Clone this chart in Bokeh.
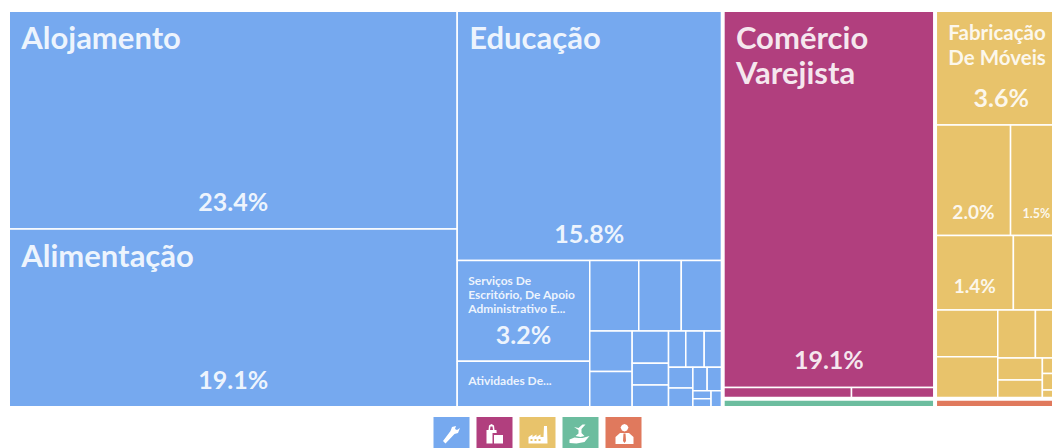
from bokeh.plotting import figure
from bokeh.models import Range1d, ColumnDataSource
from bokeh.core.properties import value
from bokeh.embed import file_html
from bokeh.resources import INLINE

# ---- data: shares (%) per sector, nested in the way the treemap splits them
BLUE, MAGENTA, YELLOW, GREEN, RED = "#76a9ef", "#b13f7e", "#e8c36b", "#6cbd9f", "#e0795d"
FONT = "Lato"

services_tree = ("h", [
    ("v", [("h", [("a1", 0.83), ("a2", 0.72), ("a3", 0.68)]),
           ("h", [("v", [("b1", 0.41), ("b2", 0.36)]),
                  ("v", [("c1", 0.28), ("c2", 0.19), ("c3", 0.19)]),
                  ("v", [("h", [("d1", 0.15), ("d2", 0.16), ("d3", 0.15)]),
                         ("h", [("v", [("e1", 0.12), ("e2", 0.11)]),
                                ("v", [("h", [("f1", 0.08), ("f2", 0.08)]),
                                       ("h", [("v", [("g1", 0.035), ("g2", 0.035)]), ("g3", 0.04)])])])])])]),
])
blue_tree = ("h", [
    ("v", [("Alojamento", 23.4), ("Alimentação", 19.1)]),
    ("v", [("Educação", 15.8),
           ("h", [("v", [("Serviços", 3.2), ("Atividades", 1.45)]), services_tree])]),
])
magenta_tree = ("v", [("Comércio", 19.1), ("h", [("m1", 0.31), ("m2", 0.20)])])
yellow_tree = ("v", [
    ("Fabricação", 3.6),
    ("h", [("y1", 2.0), ("y2", 1.5)]),
    ("h", [("y3", 1.4), ("y4", 0.96)]),
    ("h", [("v", [("y5", 0.70), ("y6", 0.61)]),
           ("v", [("h", [("y7", 0.44), ("y8", 0.36)]),
                  ("h", [("v", [("y9", 0.24), ("y10", 0.19)]),
                         ("v", [("y11", 0.09), ("y12", 0.097), ("y13", 0.043)])])])]),
])
green_value = 0.47
red_value = 0.29

# name lines, name font size, percent font size, percent shown
labels = {
    "Alojamento": (["Alojamento"], 31, 25, "23.4%"),
    "Alimentação": (["Alimentação"], 31, 25, "19.1%"),
    "Educação": (["Educação"], 31, 25, "15.8%"),
    "Comércio": (["Comércio", "Varejista"], 31, 25, "19.1%"),
    "Fabricação": (["Fabricação", "De Móveis"], 20.5, 25, "3.6%"),
    "Serviços": (["Serviços De", "Escritório, De Apoio", "Administrativo E..."], 12, 25, "3.2%"),
    "Atividades": (["Atividades De..."], 12, 0, ""),
    "y1": ([], 0, 19, "2.0%"),
    "y2": ([], 0, 12.5, "1.5%"),
    "y3": ([], 0, 19, "1.4%"),
}


def total(node):
    return node[1] if isinstance(node[1], (int, float)) else sum(total(c) for c in node[1])


def layout(node, x0, y0, x1, y1, out):
    if isinstance(node[1], (int, float)):
        out.append((node[0], x0, y0, x1, y1))
        return
    t = total(node)
    pos = x0 if node[0] == "h" else y0
    span = (x1 - x0) if node[0] == "h" else (y1 - y0)
    for c in node[1]:
        step = span * total(c) / t
        if node[0] == "h":
            layout(c, pos, y0, pos + step, y1, out)
        else:
            layout(c, x0, pos, x1, pos + step, out)
        pos += step


p = figure(width=1052, height=448, output_backend="svg", toolbar_location=None,
           x_range=Range1d(0, 1052), y_range=Range1d(448, 0), min_border=0,
           outline_line_color=None)
p.axis.visible = False
p.grid.visible = False

# page-pixel frame of the whole treemap
X0, Y0, X1, Y1 = 7.5, 9.5, 1067.0, 407.5
GAP = 1.25

blue_v = total(blue_tree)
mag_v, yel_v = total(magenta_tree), total(yellow_tree)
right_v = mag_v + yel_v + green_value + red_value
xs = X0 + (X1 - X0) * blue_v / (blue_v + right_v)
ys = Y0 + (Y1 - Y0) * (mag_v + yel_v) / right_v
xm = xs + (X1 - xs) * mag_v / (mag_v + yel_v)

groups = [
    (blue_tree, BLUE, X0, Y0, xs, Y1),
    (magenta_tree, MAGENTA, xs, Y0, xm, ys),
    (yellow_tree, YELLOW, xm, Y0, X1, ys),
    (("Verde", green_value), GREEN, xs, ys, xm, Y1),
    (("Vermelho", red_value), RED, xm, ys, X1, Y1),
]

cells = dict(l=[], t=[], r=[], b=[], c=[])
placed = {}
for tree, col, a, b, c, d in groups:
    out = []
    layout(tree, a + GAP, b + GAP, c - GAP, d - GAP, out)
    for name, x0, y0, x1, y1 in out:
        cells["l"].append(x0); cells["t"].append(y0); cells["r"].append(x1); cells["b"].append(y1)
        cells["c"].append(col)
        placed[name] = (x0, y0, x1, y1)

p.quad(left="l", right="r", top="t", bottom="b", fill_color="c", line_color="white",
       line_width=1.5, source=ColumnDataSource(cells))

# texts
pad_by_size = {31: 7, 20.5: 9, 12: 12}
line_by_size = {31: 35, 20.5: 24.6, 12: 14}
for name, (lines, nsize, psize, pct) in labels.items():
    x0, y0, x1, y1 = placed[name]
    yy = y0 + pad_by_size.get(nsize, 0)
    for ln in lines:
        p.text([x0 + (12 if nsize > 12 else 11)], [yy], text=[ln], text_color="#ffffff", text_alpha=0.88,
               text_font=value(FONT), text_font_size=f"{nsize}px", text_baseline="top",
               text_font_style="bold")
        yy += line_by_size[nsize]
    if pct:
        if name in ("Fabricação", "Serviços"):
            py = yy + (28 if name == "Fabricação" else 19)
        else:
            py = y1 - {25: 28, 19: 24, 12.5: 22}[psize]
        p.text([(x0 + x1) / 2 - (2 if name == "y2" else 0)], [py], text=[pct], text_color="#ffffff", text_alpha=0.88,
               text_font=value(FONT), text_font_size=f"{psize}px", text_align="center",
               text_baseline="middle", text_font_style="bold")

# legend icons: coloured squares with white pictograms in a 0-36 box; "c" parts are cut-outs
icon_colors = [BLUE, MAGENTA, YELLOW, GREEN, RED]
icon_shapes = [
    [("w", [(9.5, 24), (12, 26.5), (21, 17), (24.5, 16), (26.5, 11), (23.5, 13), (21.5, 12), (22.5, 9), (18.5, 10), (17, 14)])],
    [("w", [(10, 13), (20, 13), (21, 26.5), (10, 26.5)]),
     ("w", [(12, 13), (12.5, 8.5), (15, 7), (17.5, 8.5), (18, 13), (16.5, 13), (16, 9.5), (14, 9.5), (13.5, 13)]),
     ("c", [(16, 16), (27, 16), (27, 27), (16, 27)]),
     ("w", [(17.5, 18), (26.5, 18), (26.5, 26.5), (17.5, 26.5)])],
    [("w", [(9, 26.5), (9, 20), (13, 17.5), (13, 20), (17, 17.5), (17, 20), (21, 17.5), (21, 20), (24, 20), (24.5, 9), (27.5, 9), (28, 26.5)]),
     ("c", [(11, 22), (13, 22), (13, 24), (11, 24)]),
     ("c", [(15, 22), (17, 22), (17, 24), (15, 24)]),
     ("c", [(19, 22), (21, 22), (21, 24), (19, 24)])],
    [("w", [(7, 22.5), (12, 20.5), (16, 21), (20, 21), (27, 19), (22, 25), (14, 26.5), (7, 26)]),
     ("w", [(13, 19), (16, 16.5), (16, 13), (11.5, 10), (16, 11), (20, 7.5), (23, 7.5), (19, 12), (19, 16), (22, 19), (18, 20)])],
    [("w", [(19, 7), (21.5, 8), (23, 10.5), (21.5, 13.5), (19, 14.5), (16.5, 13.5), (15, 10.5), (16.5, 8)]),
     ("w", [(10, 27), (10, 20), (14.5, 16), (23.5, 16), (28, 20), (28, 27)]),
     ("c", [(18, 16.5), (20, 16.5), (20.5, 24), (19, 26), (17.5, 24)])],
]
for i, (col, shapes) in enumerate(zip(icon_colors, icon_shapes)):
    ox, oy = 433 + 43 * i, 416.5
    p.quad(left=[ox], right=[ox + 36], top=[oy], bottom=[oy + 36], fill_color=col, line_color=None)
    for kind, s in shapes:
        p.patch([ox + a for a, _ in s], [oy + b for _, b in s],
                fill_color="white" if kind == "w" else col, line_color=None)

open("out.html", "w").write(file_html(p, INLINE))
